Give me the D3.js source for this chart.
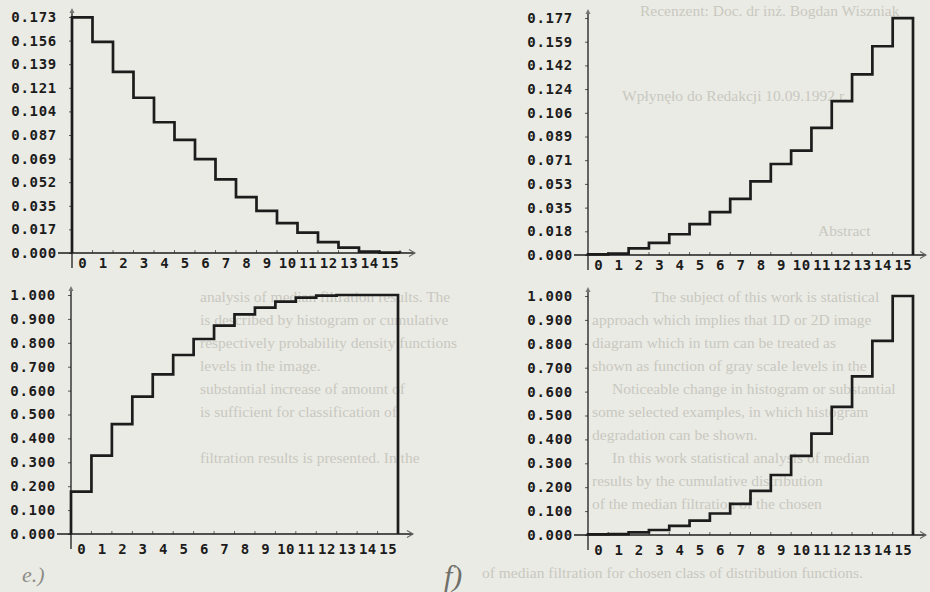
<!DOCTYPE html>
<html>
<head>
<meta charset="utf-8">
<script src="https://cdn.jsdelivr.net/npm/d3@7"></script>
<style>
  body { margin: 0; background: #ebebe5; }
  svg { display: block; }
</style>
</head>
<body>
<svg id="chart" width="930" height="592"></svg>
<script>

// grey levels (bins)
const bins = [0, 1, 2, 3, 4, 5, 6, 7, 8, 9, 10, 11, 12, 13, 14, 15];

// histograms
const fallingDensity = [0.173, 0.155, 0.133, 0.114, 0.096, 0.083, 0.069, 0.054,
                        0.041, 0.031, 0.022, 0.015, 0.008, 0.004, 0.001, 0.0003];
const risingDensity  = [0.0005, 0.001, 0.005, 0.009, 0.0155, 0.023, 0.032, 0.042,
                        0.055, 0.068, 0.078, 0.095, 0.115, 0.135, 0.156, 0.177];

// cumulative diagrams
const fallingCumulative = [0.177, 0.328, 0.460, 0.575, 0.668, 0.749, 0.816, 0.872,
                           0.919, 0.947, 0.972, 0.989, 0.997, 1.000, 1.000, 1.000];
const risingCumulative  = [0.003, 0.004, 0.011, 0.021, 0.038, 0.060, 0.090, 0.130,
                           0.185, 0.251, 0.331, 0.424, 0.536, 0.664, 0.812, 1.000];

// top of each y axis and the tick labels printed on it
const fallingTop = 0.1733;
const risingTop = 0.1771;
const cumulativeTop = 1.0;
const fallingTicks = ["0.000", "0.017", "0.035", "0.052", "0.069", "0.087",
                      "0.104", "0.121", "0.139", "0.156", "0.173"];
const risingTicks  = ["0.000", "0.018", "0.035", "0.053", "0.071", "0.089",
                      "0.106", "0.124", "0.142", "0.159", "0.177"];
const cumulativeTicks = ["0.000", "0.100", "0.200", "0.300", "0.400", "0.500",
                         "0.600", "0.700", "0.800", "0.900", "1.000"];

// text showing through from the other side of the scanned page
const bleedText = [
    [640, 16, "Recenzent: Doc. dr inż. Bogdan Wiszniak"],
    [622, 101, "Wpłynęło do Redakcji 10.09.1992 r."],
    [818, 236, "Abstract"],
    [652, 302, "The subject of this work is statistical"],
    [592, 325, "approach which implies that 1D or 2D image"],
    [592, 348, "diagram which in turn can be treated as"],
    [592, 371, "shown as function of gray scale levels in the"],
    [612, 394, "Noticeable change in histogram or substantial"],
    [592, 417, "some selected examples, in which histogram"],
    [592, 440, "degradation can be shown."],
    [612, 463, "In this work statistical analysis of median"],
    [592, 486, "results by the cumulative distribution"],
    [592, 509, "of the median filtration of the chosen"],
    [200, 302, "analysis of median filtration results. The"],
    [200, 325, "is described by histogram or cumulative"],
    [200, 348, "respectively probability density functions"],
    [200, 371, "levels in the image."],
    [200, 394, "substantial increase of amount of"],
    [200, 417, "is sufficient for classification of"],
    [200, 463, "filtration results is presented. In the"],
    [482, 578, "of median filtration for chosen class of distribution functions."]
];

let svg = d3.select("#chart");
const font = "'DejaVu Sans Mono', monospace";
const ink = "#1c1c1c";

svg.append("g")
    .selectAll("text")
    .data(bleedText)
    .enter()
    .append("text")
        .attr("x", d => d[0])
        .attr("y", d => d[1])
        .attr("font-family", "'Liberation Serif', serif")
        .attr("font-size", 15.5)
        .attr("fill", "#c8c8c0")
        .text(d => d[2]);

function drawPanel(pos, values, top, tickLabels) {

    let x = d3.scaleLinear()
                .domain([0, bins.length])
                .range([pos.left, pos.right]);

    let y = d3.scaleLinear()
                .domain([0, top])
                .range([pos.bottom, pos.top]);

    let g = svg.append("g");

    // y axis ticks and labels
    let yAxis = d3.axisLeft(y)
                    .tickValues(tickLabels.map((t, i) => top * i / (tickLabels.length - 1)))
                    .tickFormat((d, i) => tickLabels[i])
                    .tickSize(3)
                    .tickPadding(12);

    g.append("g")
        .attr("transform", "translate(" + pos.left + ",0)")
        .call(yAxis)
        .call(a => a.select(".domain").remove())
        .attr("font-family", font)
        .attr("font-size", 14)
        .attr("font-weight", "bold")
        .attr("color", ink)
        .call(a => a.selectAll("line").attr("stroke", "#555"))
        .selectAll("text").attr("letter-spacing", 0.7);

    // x labels centred in the bins
    let xAxis = d3.axisBottom(x)
                    .tickValues(bins.map(b => b + 0.5))
                    .tickFormat((d, i) => bins[i])
                    .tickSize(0)
                    .tickPadding(pos.labelGap);

    g.append("g")
        .attr("transform", "translate(0," + pos.bottom + ")")
        .call(xAxis)
        .call(a => a.select(".domain").remove())
        .attr("font-family", font)
        .attr("font-size", 14)
        .attr("font-weight", "bold")
        .attr("color", ink)
        .selectAll("text").attr("letter-spacing", 0.5);

    // little marks on the x axis
    g.append("g")
        .selectAll("line")
        .data(d3.range(1, bins.length + 1))
        .enter()
        .append("line")
            .attr("x1", d => x(d)).attr("x2", d => x(d))
            .attr("y1", pos.bottom - 3).attr("y2", pos.bottom)
            .style("stroke", "#666")
            .style("stroke-width", 1);

    // axis lines with arrow heads
    g.append("line")
        .attr("x1", pos.left).attr("x2", pos.left)
        .attr("y1", pos.top - 7).attr("y2", pos.bottom + 15)
        .style("stroke", ink).style("stroke-width", 1.3);

    g.append("path")
        .attr("d", "M" + (pos.left - 2.5) + "," + (pos.top - 4) + "L" + pos.left + "," + (pos.top - 9)
                 + "L" + (pos.left + 2.5) + "," + (pos.top - 4) + "Z")
        .style("fill", "#777");

    g.append("line")
        .attr("x1", pos.left - 14).attr("x2", pos.arrow)
        .attr("y1", pos.bottom).attr("y2", pos.bottom)
        .style("stroke", ink).style("stroke-width", 1.3);

    g.append("path")
        .attr("d", "M" + (pos.arrow - 6) + "," + (pos.bottom - 3.5) + "L" + pos.arrow + "," + pos.bottom
                 + "L" + (pos.arrow - 6) + "," + (pos.bottom + 3.5))
        .style("fill", "none")
        .style("stroke", "#666").style("stroke-width", 1.1);

    // histogram outline
    let pts = [[0, 0]];
    values.forEach((v, i) => pts.push([i, v]));
    pts.push([bins.length, values[values.length - 1]]);
    pts.push([bins.length, 0]);

    let line = d3.line()
                .x(d => x(d[0]))
                .y(d => y(d[1]))
                .curve(d3.curveStepAfter);

    g.append("path")
        .datum(pts)
        .attr("d", line)
        .style("fill", "none")
        .style("stroke", ink)
        .style("stroke-width", 2.7)
        .style("stroke-linejoin", "miter");
}

drawPanel({ left: 72, right: 400, top: 17, bottom: 253, arrow: 415, labelGap: 5 },
          fallingDensity, fallingTop, fallingTicks);
drawPanel({ left: 588, right: 913, top: 18, bottom: 255, arrow: 926, labelGap: 5 },
          risingDensity, risingTop, risingTicks);
drawPanel({ left: 71, right: 398, top: 295, bottom: 534, arrow: 413, labelGap: 10 },
          fallingCumulative, cumulativeTop, cumulativeTicks);
drawPanel({ left: 588, right: 913, top: 296, bottom: 535, arrow: 926, labelGap: 10 },
          risingCumulative, cumulativeTop, cumulativeTicks);

// hand written panel marks
svg.append("text")
    .attr("x", 22).attr("y", 582)
    .attr("font-family", "'Liberation Serif', serif")
    .attr("font-style", "italic")
    .attr("font-size", 22)
    .attr("fill", "#8d8d88")
    .text("e.)");

svg.append("text")
    .attr("x", 444).attr("y", 586)
    .attr("font-family", "'Liberation Serif', serif")
    .attr("font-style", "italic")
    .attr("font-size", 30)
    .attr("fill", "#6f6f6a")
    .text("f)");

</script>
</body>
</html>
